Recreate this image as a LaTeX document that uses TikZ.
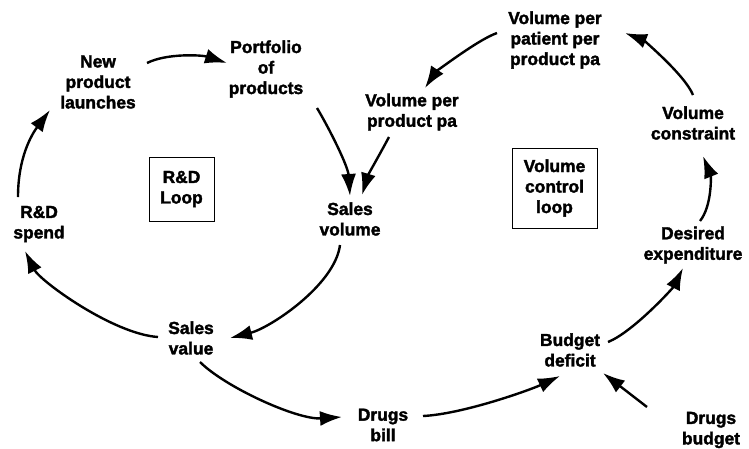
\documentclass[tikz,border=0pt]{standalone}
\usepackage{fontspec}
\setmainfont{Liberation Sans}[BoldFeatures={FakeBold=2}]
\usetikzlibrary{arrows.meta}
\begin{document}
\begin{tikzpicture}[x=1pt,y=-1pt,
  lbl/.style={font=\bfseries\fontsize{17.4}{20.5}\selectfont, align=center, inner sep=0pt},
  loopbox/.style={draw, line width=0.9pt, font=\bfseries\fontsize{17.4}{20.5}\selectfont, align=center, inner sep=0pt},
  link/.style={line width=2.4pt, -{Latex[length=22pt,width=15pt]}}]
\useasboundingbox (0,0) rectangle (749,448);

% nodes
\node[lbl] (spend) at (39,224) {R\&D\\spend};
\node[lbl] (npl) at (98,82) {New\\product\\launches};
\node[lbl] (port) at (266,69) {Portfolio\\of\\products};
\node[lbl] (sv) at (350,219) {Sales\\volume};
\node[lbl] (vppp) at (555,40) {Volume per\\patient per\\product pa};
\node[lbl] (vpp) at (412,112) {Volume per\\product pa};
\node[lbl] (vc) at (693,123) {Volume\\constraint};
\node[lbl] (de) at (693,245) {Desired\\expenditure};
\node[lbl] (bd) at (570,350) {Budget\\deficit};
\node[lbl] (db) at (711,430) {Drugs\\budget};
\node[lbl] (dbill) at (383,425) {Drugs\\bill};
\node[lbl] (sval) at (191,338) {Sales\\value};

\node[loopbox, minimum width=65pt, minimum height=64pt] (rdl) at (181.5,189) {R\&D\\Loop};
\node[loopbox, minimum width=85pt, minimum height=80pt] (vcl) at (554.5,188) {Volume\\control\\loop};

% connectors
\draw[link] ([shift={(-21,-27)}]spend.center) .. controls +(0,-40) and +(-18,24) .. ([shift={(-48,28)}]npl.center);
\draw[link] ([shift={(49,-19)}]npl.center) .. controls +(20,-10) and +(-25,-8) .. ([shift={(-39,-6)}]port.center);
\draw[link] ([shift={(51,39)}]port.center) .. controls +(12,20) and +(-2,-30) .. ([shift={(0,-23)}]sv.center);
\draw[link] ([shift={(-23,25)}]vpp.center) .. controls +(-8,15) and +(6,-20) .. ([shift={(12,-24)}]sv.center);
\draw[link] ([shift={(-58,-7)}]vppp.center) .. controls +(-20,7) and +(10,-15) .. ([shift={(13,-24)}]vpp.center);
\draw[link] ([shift={(0,-28)}]vc.center) .. controls +(-8,-20) and +(18,7) .. ([shift={(70,-7)}]vppp.center);
\draw[link] ([shift={(7,-24)}]de.center) .. controls +(12,-15) and +(8,20) .. ([shift={(10,33)}]vc.center);
\draw[link] ([shift={(38,-8)}]bd.center) .. controls +(25,-10) and +(-10,20) .. ([shift={(-10,23)}]de.center);
\draw[link] ([shift={(-64,-23)}]db.center) -- ([shift={(33,23)}]bd.center);
\draw[link] ([shift={(40,-9)}]dbill.center) .. controls +(40,-2) and +(-30,14) .. ([shift={(-10,26)}]bd.center);
\draw[link] ([shift={(9,24)}]sval.center) .. controls +(25,25) and +(-45,3) .. ([shift={(-41,-8)}]dbill.center);
\draw[link] ([shift={(-10,26)}]sv.center) .. controls +(-5,40) and +(40,-10) .. ([shift={(39,0)}]sval.center);
\draw[link] ([shift={(-33,-1)}]sval.center) .. controls +(-45,-3) and +(15,30) .. ([shift={(-14,27)}]spend.center);
\end{tikzpicture}
\end{document}
